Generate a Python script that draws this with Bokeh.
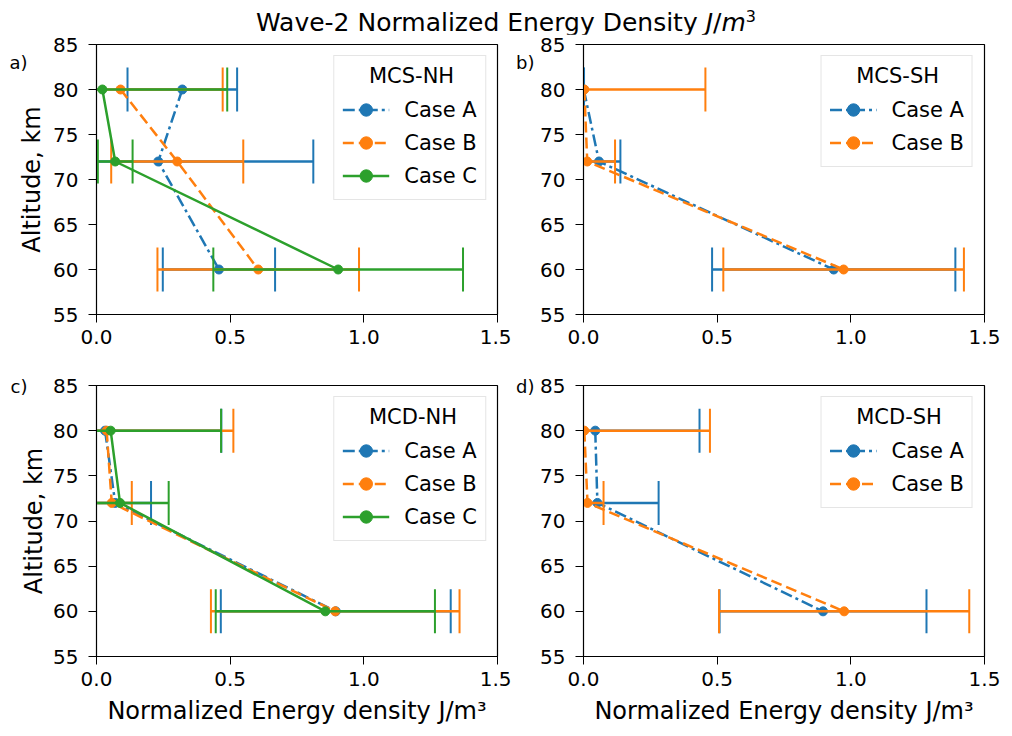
import numpy as np
from bokeh.plotting import figure
from bokeh.layouts import column, row
from bokeh.models import (Range1d, FixedTicker, Legend, LegendItem, Div, LinearAxis,
                          ColumnDataSource, PrintfTickFormatter)
from bokeh.embed import file_html
from bokeh.resources import INLINE

# ---------------- data ----------------
ALTITUDE = [80, 72, 60]
X_TICKS = [0.0, 0.5, 1.0, 1.5]
Y_TICKS = [55, 60, 65, 70, 75, 80, 85]

# MCS-NH
mcs_nh_A = [0.321, 0.231, 0.458]
mcs_nh_A_err = [0.205, 0.580, 0.210]
mcs_nh_B = [0.090, 0.302, 0.605]
mcs_nh_B_err = [0.382, 0.247, 0.377]
mcs_nh_C = [0.022, 0.070, 0.904]
mcs_nh_C_err = [0.467, 0.065, 0.467]

# MCS-SH
mcs_sh_A = [0.001, 0.058, 0.936]
mcs_sh_A_err = [0.001, 0.080, 0.455]
mcs_sh_B = [0.003, 0.014, 0.973]
mcs_sh_B_err = [0.453, 0.104, 0.450]

# MCD-NH
mcd_nh_A = [0.032, 0.070, 0.895]
mcd_nh_A_err = [0.435, 0.134, 0.430]
mcd_nh_B = [0.038, 0.057, 0.893]
mcd_nh_B_err = [0.474, 0.075, 0.465]
mcd_nh_C = [0.053, 0.088, 0.856]
mcd_nh_C_err = [0.413, 0.182, 0.410]

# MCD-SH
mcd_sh_A = [0.044, 0.052, 0.896]
mcd_sh_A_err = [0.390, 0.229, 0.387]
mcd_sh_B = [0.003, 0.015, 0.975]
mcd_sh_B_err = [0.470, 0.060, 0.468]

CASE_NAMES = ["Case A", "Case B", "Case C"]
COLORS = ["#1f77b4", "#ff7f0e", "#2ca02c"]
DASHES = ["12 4 3 4", "11 5", "solid"]

FONT = "DejaVu Sans"
NB = "\u00a0"


def style_axis(ax):
    ax.major_label_text_font = FONT
    ax.major_label_text_font_size = "20px"
    ax.major_label_text_color = "black"
    ax.major_tick_out = 8
    ax.major_tick_in = 0
    ax.minor_tick_out = 0
    ax.minor_tick_in = 0
    ax.axis_line_color = "black"
    ax.major_tick_line_color = "black"
    ax.axis_label_text_font = FONT
    ax.axis_label_text_font_size = "24px"
    ax.axis_label_text_font_style = "normal"
    ax.axis_label_text_color = "black"


def make_panel(legend_title, series, panel_label, lab_y, lab_standoff,
               left, right, top, bottom, frame_h, ylabel, xlabel):
    p = figure(frame_width=401, frame_height=frame_h,
               min_border_left=left, min_border_right=right,
               min_border_top=top, min_border_bottom=bottom,
               x_range=Range1d(0, 1.5), y_range=Range1d(55, 85),
               output_backend="svg", toolbar_location=None)
    p.grid.visible = False
    p.outline_line_color = "black"
    p.outline_line_alpha = 1.0
    p.outline_line_width = 1.2
    p.background_fill_color = "white"
    p.border_fill_color = "white"

    p.xaxis.ticker = FixedTicker(ticks=X_TICKS)
    p.xaxis.formatter = PrintfTickFormatter(format="%.1f")
    p.yaxis.ticker = FixedTicker(ticks=Y_TICKS)
    style_axis(p.xaxis[0])
    style_axis(p.yaxis[0])
    p.xaxis.major_label_standoff = 7
    p.yaxis.major_label_standoff = 10
    if xlabel:
        p.xaxis.axis_label = "Normalized Energy density J/m\u00b3"
        p.xaxis.axis_label_standoff = 8

    # outer left axis carrying the panel letter (and the y label)
    lab_axis = LinearAxis(ticker=FixedTicker(ticks=[lab_y]),
                          major_label_overrides={lab_y: panel_label})
    style_axis(lab_axis)
    lab_axis.axis_line_color = None
    lab_axis.major_tick_line_color = None
    lab_axis.major_tick_out = 0
    lab_axis.major_label_text_font_size = "18px"
    lab_axis.major_label_standoff = lab_standoff
    if ylabel:
        lab_axis.axis_label = "Altitude, km"
        lab_axis.axis_label_standoff = -40
    p.add_layout(lab_axis, "left")

    items = []
    for i, (xs, errs) in enumerate(series):
        xs = np.array(xs, dtype=float)
        errs = np.array(errs, dtype=float)
        src = ColumnDataSource(dict(y=ALTITUDE, x=xs, lo=xs - errs, hi=xs + errs))
        c = COLORS[i]
        p.segment(x0="lo", y0="y", x1="hi", y1="y", line_color=c, line_width=2.5, source=src)
        p.scatter(x="lo", y="y", marker="dash", angle=np.pi / 2, size=44,
                  line_color=c, line_width=2, source=src)
        p.scatter(x="hi", y="y", marker="dash", angle=np.pi / 2, size=44,
                  line_color=c, line_width=2, source=src)
        ln = p.line(x="x", y="y", line_color=c, line_width=2.5, line_dash=DASHES[i], source=src)
        mk = p.scatter(x="x", y="y", size=9, fill_color=c, line_color=c, source=src)
        items.append(LegendItem(label=CASE_NAMES[i], renderers=[ln, mk]))

    leg = Legend(items=items, location="top_right", title=NB * 4 + legend_title)
    leg.margin = 11
    leg.padding = 8
    leg.spacing = 2
    leg.glyph_width = 47
    leg.glyph_height = 31
    leg.label_height = 31
    leg.label_standoff = 15
    leg.label_text_font = FONT
    leg.label_text_font_size = "21px"
    leg.label_text_color = "black"
    leg.title_text_font = FONT
    leg.title_text_font_size = "21px"
    leg.title_text_font_style = "normal"
    leg.title_text_color = "black"
    leg.title_standoff = 6
    leg.border_line_color = "#cccccc"
    leg.border_line_width = 1.2
    leg.background_fill_alpha = 0.8
    p.add_layout(leg)
    return p


pa = make_panel("MCS-NH", [(mcs_nh_A, mcs_nh_A_err), (mcs_nh_B, mcs_nh_B_err), (mcs_nh_C, mcs_nh_C_err)],
                "a)", 83.0, 23, 96, 14, 10, 41, 270, True, False)
pb = make_panel("MCS-SH", [(mcs_sh_A, mcs_sh_A_err), (mcs_sh_B, mcs_sh_B_err)],
                "b)", 83.0, 3, 72, 28, 10, 41, 270, False, False)
pc = make_panel("MCD-NH", [(mcd_nh_A, mcd_nh_A_err), (mcd_nh_B, mcd_nh_B_err), (mcd_nh_C, mcd_nh_C_err)],
                "c)", 84.9, 23, 96, 14, 30, 80, 271, True, True)
pd = make_panel("MCD-SH", [(mcd_sh_A, mcd_sh_A_err), (mcd_sh_B, mcd_sh_B_err)],
                "d)", 84.9, 3, 72, 28, 30, 80, 271, False, True)

title = Div(text=('<div style="width:1012px;text-align:center;font-family:\'DejaVu Sans\';'
                  'font-size:25px;line-height:34px;color:black;white-space:nowrap">'
                  'Wave-2 Normalized Energy Density <i>J</i>/<i>m</i><sup style="font-size:16px">3</sup></div>'),
            width=1012, height=34, margin=0)

layout = column(title, row(pa, pb, spacing=0), row(pc, pd, spacing=0), spacing=0)
open("out.html", "w").write(file_html(layout, INLINE))
